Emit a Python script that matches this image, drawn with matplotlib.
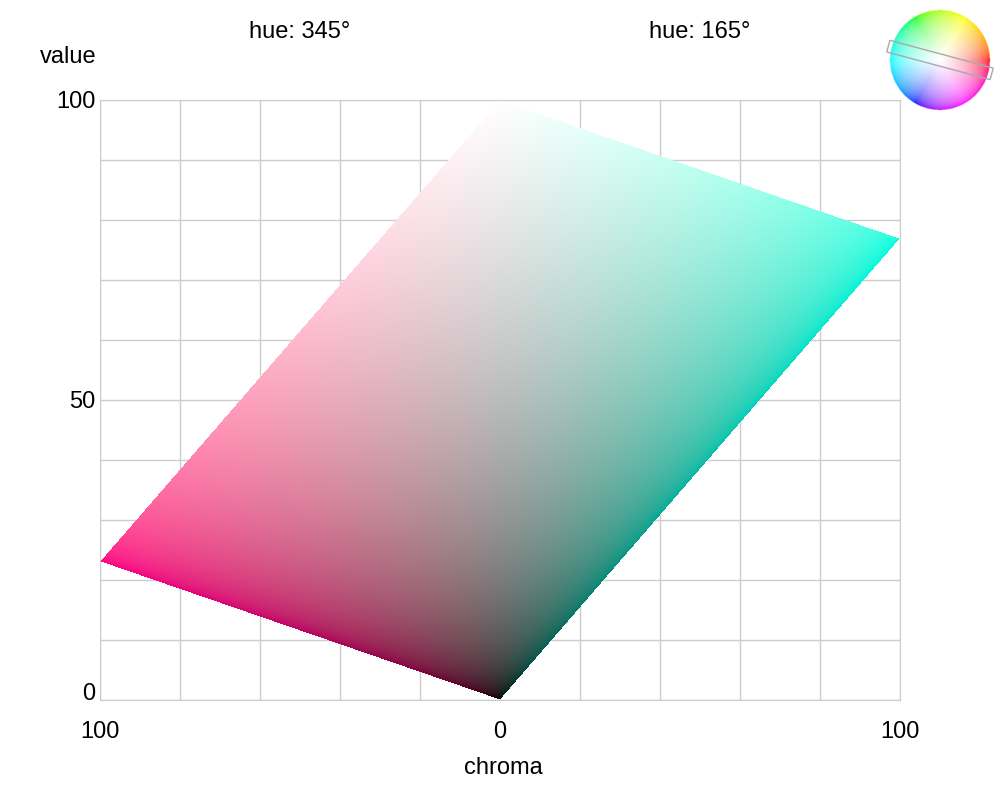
import numpy as np
import matplotlib
matplotlib.use("Agg")
import matplotlib.pyplot as plt
import matplotlib.colors as mcolors
import matplotlib.transforms as mtransforms
from matplotlib.patches import Polygon

plt.rcParams['font.family'] = ['Liberation Sans', 'DejaVu Sans']

# data
hues = [345, 165]                 # left slice, right slice (degrees)
luma_coef = [0.2126, 0.7152, 0.0722]
y_ticks = [0, 50, 100]
y_tick_labels = ['0', '50', '100']
x_ticks = [-100, 0, 100]
x_tick_labels = ['100', '0', '100']
x_grid_step = 20
y_grid_step = 10

FS = 17


def pure(h):
    return np.array(mcolors.hsv_to_rgb([h / 360.0, 1.0, 1.0]))


def to_srgb(lin):
    lin = np.clip(lin, 0, 1)
    return np.where(lin <= 0.0031308, 12.92 * lin, 1.055 * np.power(lin, 1 / 2.4) - 0.055)


fig = plt.figure(figsize=(10, 8), dpi=100)
ax = fig.add_axes([0.1, 0.125, 0.8, 0.75])

nx, ny = 800, 600
xs = np.linspace(-100, 100, nx)
ys = np.linspace(0, 100, ny)
X, Y = np.meshgrid(xs, ys)
img = np.zeros((ny, nx, 4))
for side, h in zip([X < 0, X >= 0], hues):
    p = pure(h)
    Yp = float(np.dot(p, luma_coef))
    c = np.abs(X) / 100.0
    v = Y / 100.0
    m = v - c * Yp
    valid = (m >= -1e-9) & (m + c <= 1 + 1e-9) & side
    for k in range(3):
        img[..., k] = np.where(side, to_srgb(m + c * p[k]), img[..., k])
    img[..., 3] = np.where(side, valid.astype(float), img[..., 3])

ax.imshow(img, extent=[-100, 100, 0, 100], origin='lower', aspect='auto',
          interpolation='nearest', zorder=2)

ax.set_xlim(-100, 100)
ax.set_ylim(0, 100)
ax.set_xticks(x_ticks)
ax.set_xticklabels(x_tick_labels)
ax.set_yticks(y_ticks)
ax.set_yticklabels(y_tick_labels)
ax.set_xticks(np.arange(-100, 101, x_grid_step), minor=True)
ax.set_yticks(np.arange(0, 101, y_grid_step), minor=True)
ax.tick_params(which='both', length=0)
ax.tick_params(axis='x', pad=15, labelsize=FS)
ax.tick_params(axis='y', pad=3.5, labelsize=FS)
ax.grid(which='both', color='#cccccc', linewidth=1, zorder=0)
ax.set_axisbelow(True)
for s in ax.spines.values():
    s.set_color('#cccccc')
# nudge the "0" value label up a little, as in the reference
lbl0 = ax.get_yticklabels()[0]
lbl0.set_transform(lbl0.get_transform() + mtransforms.ScaledTranslation(0, 8 / 100, fig.dpi_scale_trans))

fig.text(0.503, 1 - 768 / 800, 'chroma', ha='center', va='center', fontsize=FS)
fig.text(0.068, 1 - 57 / 800, 'value', ha='center', va='center', fontsize=FS)
fig.text(0.30, 1 - 32 / 800, 'hue: %d°' % hues[0], ha='center', va='center', fontsize=FS)
fig.text(0.70, 1 - 32 / 800, 'hue: %d°' % hues[1], ha='center', va='center', fontsize=FS)

# color wheel inset (center 940,60 px, radius 50 px)
iax = fig.add_axes([0.88, 1 - 120 / 800, 0.12, 0.15])
n = 300
u = np.linspace(-1.2, 1.2, n)
U, V = np.meshgrid(u, u)
R = np.sqrt(U ** 2 + V ** 2)
H = (np.degrees(np.arctan2(V, U)) % 360) / 360.0
hsv = np.stack([H, np.ones_like(R), np.ones_like(R)], axis=-1)
purecol = mcolors.hsv_to_rgb(hsv)
S = np.clip(R, 0, 1)[..., None]
lin = 1 - S + S * purecol
wheel = np.zeros((n, n, 4))
wheel[..., :3] = to_srgb(lin)
wheel[..., 3] = (R <= 1).astype(float)
iax.imshow(wheel, extent=[-1.2, 1.2, -1.2, 1.2], origin='lower', interpolation='bilinear')
a = np.radians(hues[1])
d = np.array([np.cos(a), np.sin(a)])
nrm = np.array([-d[1], d[0]])
L, w = 1.07, 0.12
pts = [L * d + w * nrm, L * d - w * nrm, -L * d - w * nrm, -L * d + w * nrm]
iax.add_patch(Polygon(pts, closed=True, fill=False, edgecolor='#aaaaaa', linewidth=1))
iax.set_xlim(-1.2, 1.2)
iax.set_ylim(-1.2, 1.2)
iax.set_aspect('equal')
iax.axis('off')

fig.savefig('out.png', dpi=100)
